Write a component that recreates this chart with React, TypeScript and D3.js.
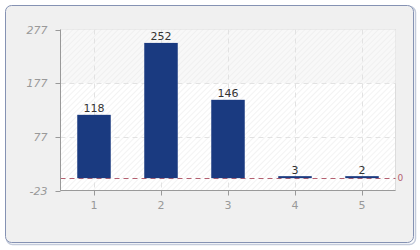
import React from "react";
import * as d3 from "d3";

const categories = ["1", "2", "3", "4", "5"];
const values = [118, 252, 146, 3, 2];
const yTicks = [-23, 77, 177, 277];

export default function App() {
  const W = 420, H = 250;
  const left = 60.5, right = 395.5, top = 29.5, bottom = 190.5;
  const x = d3.scaleBand<string>().domain(categories).range([left, right]).paddingInner(0.5).paddingOuter(0.25);
  const xc = d3.scalePoint<string>().domain(categories).range([left, right]).padding(0.5);
  const y = d3.scaleLinear().domain([-23, 277]).range([bottom, top]);
  const font = "Tahoma, 'DejaVu Sans', sans-serif";
  return (
    <svg width={W} height={H} style={{ position: "absolute", left: 0, top: 0 }}>
      <defs>
        <pattern id="hatch" width="4" height="4" patternUnits="userSpaceOnUse" patternTransform="rotate(45)">
          <rect width="4" height="4" fill="#fff" />
          <line x1="0" y1="0" x2="0" y2="4" stroke="#ececec" strokeWidth="1.2" />
        </pattern>
        <pattern id="hatch2" width="4" height="4" patternUnits="userSpaceOnUse" patternTransform="rotate(45)">
          <rect width="4" height="4" fill="#f8f8f8" />
          <line x1="0" y1="0" x2="0" y2="4" stroke="#ececec" strokeWidth="1.2" />
        </pattern>
      </defs>
      <rect x={6.5} y={6.5} width={409} height={238} rx={6} fill="none" stroke="#c4cbdb" strokeWidth={1.5} />
      <rect x={5.5} y={5.5} width={408} height={237} rx={6} fill="#f0f0f0" stroke="#8592b3" strokeWidth={1} />
      <rect x={left} y={top} width={right - left} height={bottom - top} fill="url(#hatch)" stroke="#dcdcdc" />
      <rect x={left} y={top} width={right - left} height={y(177) - top} fill="url(#hatch2)" />
      {yTicks.slice(1, 3).map((t) => (
        <line key={t} x1={left} x2={right} y1={Math.round(y(t)) + 0.5} y2={Math.round(y(t)) + 0.5} stroke="#e2e2e2" strokeDasharray="5,4" />
      ))}
      {categories.map((c) => (
        <line key={c} x1={Math.round(xc(c)!) + 0.5} x2={Math.round(xc(c)!) + 0.5} y1={top} y2={bottom} stroke="#e2e2e2" strokeDasharray="5,4" />
      ))}
      <line x1={left} x2={right} y1={Math.round(y(0)) + 0.5} y2={Math.round(y(0)) + 0.5} stroke="#b56070" strokeDasharray="5,4" />
      {values.map((v, i) => (
        <rect key={i} x={x(categories[i])!} y={Math.min(y(v), y(0) - 2)} width={x.bandwidth()} height={Math.max(y(0) - y(v), 2)} fill="#1a3a80" />
      ))}
      <text x={right + 2} y={y(0) + 3} fontSize={9} fill="#b56070" fontFamily={font}>0</text>
      {values.map((v, i) => (
        <text key={i} x={xc(categories[i])!} y={y(v) - 3} textAnchor="middle" fontSize={11} fill="#333" fontFamily={font}>{v}</text>
      ))}
      <line x1={left} x2={left} y1={top} y2={bottom} stroke="#999" />
      <line x1={left} x2={right} y1={bottom} y2={bottom} stroke="#999" />
      {yTicks.map((t) => (
        <g key={t}>
          <line x1={left - 5} x2={left} y1={Math.round(y(t)) + 0.5} y2={Math.round(y(t)) + 0.5} stroke="#999" />
          <text x={left - 13} y={y(t) + 4} textAnchor="end" fontSize={11} fontStyle="italic" fill="#999" fontFamily={font}>{t}</text>
        </g>
      ))}
      {categories.map((c) => (
        <g key={c}>
          <line x1={Math.round(xc(c)!) + 0.5} x2={Math.round(xc(c)!) + 0.5} y1={bottom} y2={bottom + 5} stroke="#999" />
          <text x={xc(c)!} y={bottom + 18} textAnchor="middle" fontSize={11} fill="#999" fontFamily={font}>{c}</text>
        </g>
      ))}
    </svg>
  );
}
